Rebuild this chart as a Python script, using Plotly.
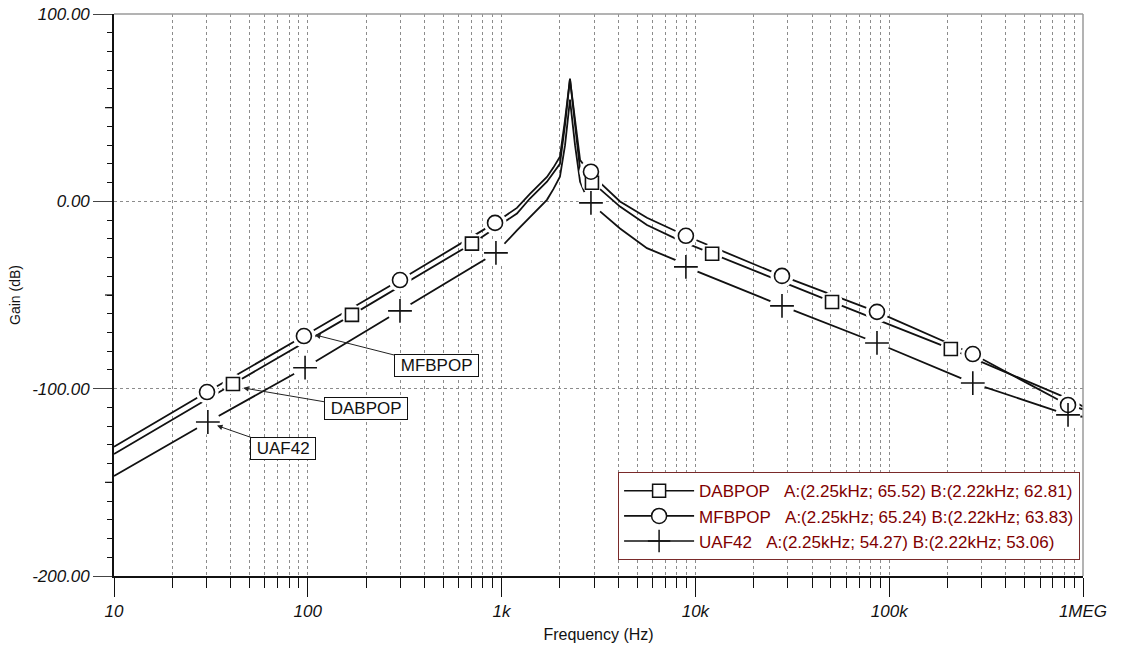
import plotly.graph_objects as go
import numpy as np

# ---------------- data (frequency in Hz, gain in dB) ----------------
dab_freq = [10, 41.1, 169, 703, 1200, 1400, 1714, 1850, 2000, 2125, 2253, 2393, 2541, 2700, 2925, 3221,
            4083, 5623, 8318, 12200, 50700, 208000, 867000, 1000000]
dab_gain = [-134.9, -97.5, -60.6, -22.6, -6.5, 1.5, 10.5, 15.0, 20.0, 41.0, 65.5, 41.0, 17.0, 12.5, 9.9, 6.5,
            -2.8, -12.6, -21.0, -28.0, -53.7, -78.8, -106.0, -109.5]

mfb_freq = [10, 30.2, 95.5, 299, 925, 1200, 1400, 1714, 1850, 2000, 2125, 2253, 2393, 2541, 2700, 2891, 3221,
            4083, 5623, 8318, 8933, 27980, 86500, 270000, 837000, 1000000]
mfb_gain = [-131.0, -101.8, -71.9, -42.0, -11.5, -3.5, 4.0, 13.0, 18.0, 23.8, 43.5, 65.2, 43.5, 22.0, 18.5, 15.8, 10.0,
            -0.1, -8.8, -16.8, -18.4, -39.8, -59.0, -81.5, -108.7, -111.0]

uaf_freq = [10, 30.5, 96.8, 299, 935, 1200, 1403, 1714, 1850, 2000, 2125, 2253, 2393, 2541, 2700, 2891, 3221,
            4083, 5623, 8318, 8933, 27980, 86500, 270000, 837000, 1000000]
uaf_gain = [-146.6, -117.8, -88.8, -58.5, -27.5, -15.5, -8.3, 0.8, 6.5, 13.1, 30.0, 54.3, 30.0, 10.4, 4.0, -0.8, -5.4,
            -14.5, -25.0, -32.3, -35.0, -55.8, -75.6, -97.0, -114.0, -115.0]

# marker positions
dab_mk_freq = [41.1, 169, 703, 2925, 12200, 50700, 208000]
dab_mk_gain = [-97.5, -60.6, -22.6, 9.9, -28.0, -53.7, -78.8]
mfb_mk_freq = [30.2, 95.5, 299, 925, 2891, 8933, 27980, 86500, 270000, 837000]
mfb_mk_gain = [-101.8, -71.9, -42.0, -11.5, 15.8, -18.4, -39.8, -59.0, -81.5, -108.7]
uaf_mk_freq = [30.5, 96.8, 299, 935, 2891, 8933, 27980, 86500, 270000, 837000]
uaf_mk_gain = [-117.8, -88.8, -58.5, -27.5, -0.8, -35.0, -55.8, -75.6, -97.0, -114.0]

series_names = ["DABPOP", "MFBPOP", "UAF42"]
legend_labels = [
    "DABPOP\u00a0\u00a0\u00a0A:(2.25kHz; 65.52) B:(2.22kHz; 62.81)",
    "MFBPOP\u00a0\u00a0\u00a0A:(2.25kHz; 65.24) B:(2.22kHz; 63.83)",
    "UAF42\u00a0\u00a0\u00a0A:(2.25kHz; 54.27) B:(2.22kHz; 53.06)",
]
# annotation arrow tips (frequency Hz, gain dB)
label_tip_freq = [46.4, 108.9, 34.0]
label_tip_gain = [-99.6, -71.3, -119.7]

x_tick_vals = [10, 100, 1000, 10000, 100000, 1000000]
x_tick_text = ["10", "100", "1k", "10k", "100k", "1MEG"]
y_tick_vals = [-200, -100, 0, 100]

FONT = "Arial, 'Liberation Sans', sans-serif"
INK = "#111111"

fig = go.Figure()

curves = [(dab_freq, dab_gain), (mfb_freq, mfb_gain), (uaf_freq, uaf_gain)]
markers = [(dab_mk_freq, dab_mk_gain), (mfb_mk_freq, mfb_mk_gain), (uaf_mk_freq, uaf_mk_gain)]
symbols = ["square", "circle", "cross-thin"]
sizes = [13, 15, 17]

for (fx, gy), nm in zip(curves, series_names):
    fig.add_trace(go.Scatter(x=fx, y=gy, mode="lines", name=nm, showlegend=False,
                             line=dict(color=INK, width=1.8), hoverinfo="skip"))

# white halos to break the lines around markers
for (mx, my), sz in zip(markers, sizes):
    fig.add_trace(go.Scatter(x=mx, y=my, mode="markers", showlegend=False, hoverinfo="skip",
                             marker=dict(symbol="circle", size=sz + 8, color="white",
                                         line=dict(width=0))))

for (mx, my), sym, sz, nm in zip(markers, symbols, sizes, series_names):
    fig.add_trace(go.Scatter(x=mx, y=my, mode="markers", name=nm, showlegend=False,
                             marker=dict(symbol=sym, size=sz, color="white" if sym != "cross-thin" else INK,
                                         line=dict(color=INK, width=1.6))))

# legend-only entries
for lab, sym, sz in zip(legend_labels, symbols, sizes):
    fig.add_trace(go.Scatter(x=[None], y=[None], mode="lines+markers", name=lab,
                             line=dict(color=INK, width=1.6),
                             marker=dict(symbol=sym, size=sz, color="white" if sym != "cross-thin" else INK,
                                         line=dict(color=INK, width=1.5))))

minor_x = [k * 10 ** d for d in range(1, 6) for k in range(2, 10)]
minor_y = [v for v in range(-200, 101, 10) if v not in y_tick_vals]

fig.update_xaxes(
    type="log", range=[1, 6], automargin=False,
    tickmode="array", tickvals=x_tick_vals, ticktext=x_tick_text,
    ticks="outside", ticklen=19, tickwidth=1.3, tickcolor=INK,
    showgrid=True, gridcolor="#8c8c8c", griddash="3px,3px", gridwidth=1,
    minor=dict(tickmode="array", tickvals=minor_x, ticks="outside", ticklen=10,
               tickwidth=1.2, tickcolor=INK, showgrid=True, gridcolor="#8c8c8c",
               griddash="3px,3px", gridwidth=1),
    showline=True, linecolor=INK, linewidth=1.6, zeroline=False,
    tickfont=dict(family=FONT, size=17, color=INK, style="italic"),
    title=dict(text="Frequency (Hz)", font=dict(family=FONT, size=16, color=INK), standoff=9),
)
fig.update_yaxes(
    range=[-200, 100], automargin=False,
    tickmode="array", tickvals=y_tick_vals, ticktext=[f"{v:.2f}" for v in y_tick_vals],
    ticks="outside", ticklen=19, tickwidth=1.3, tickcolor="#444444",
    showgrid=True, gridcolor="#8c8c8c", griddash="3px,3px", gridwidth=1,
    minor=dict(tickmode="array", tickvals=minor_y, ticks="outside", ticklen=5,
               tickwidth=1.2, tickcolor=INK, showgrid=False),
    showline=True, linecolor=INK, linewidth=1.6, zeroline=False,
    tickfont=dict(family=FONT, size=17, color=INK, style="italic"),
    title=dict(text="Gain (dB)", font=dict(family=FONT, size=14, color=INK), standoff=8),
)

shapes = []
# medium ticks at the 50 dB marks
for v in [50, -50, -150]:
    shapes.append(dict(type="line", xref="paper", yref="y", x0=-9 / 969, x1=0, y0=v, y1=v,
                       line=dict(color=INK, width=1.2)))
# grey frame on top and right
shapes.append(dict(type="line", xref="paper", yref="paper", x0=0, x1=1, y0=1, y1=1,
                   line=dict(color="#9a9a9a", width=1.5)))
shapes.append(dict(type="line", xref="paper", yref="paper", x0=1, x1=1, y0=0, y1=1,
                   line=dict(color="#9a9a9a", width=1.5)))

annotations = []
offsets = [(123, 21), (122, 31), (66, 23)]
for nm, fx, gy, (ax, ay) in zip(series_names, label_tip_freq, label_tip_gain, offsets):
    annotations.append(dict(x=np.log10(fx), y=gy, xref="x", yref="y", text="\u00a0" + nm + "\u00a0",
                            showarrow=True, ax=ax, ay=ay, arrowhead=2, arrowsize=1.1,
                            arrowwidth=1, arrowcolor="#222222",
                            font=dict(family=FONT, size=17, color=INK),
                            bgcolor="white", bordercolor=INK, borderwidth=1, borderpad=1))

fig.update_layout(
    width=1131, height=647,
    margin=dict(l=114, r=48, t=14, b=71, autoexpand=False),
    paper_bgcolor="white", plot_bgcolor="white",
    shapes=shapes, annotations=annotations,
    showlegend=True,
    legend=dict(x=0.997, xanchor="right", y=0.028, yanchor="bottom",
                bgcolor="white", bordercolor="#7a2a2a", borderwidth=1,
                font=dict(family=FONT, size=17, color="#800000"),
                tracegroupgap=0, itemwidth=70),
    font=dict(family=FONT),
)

fig.write_html("out.html")
